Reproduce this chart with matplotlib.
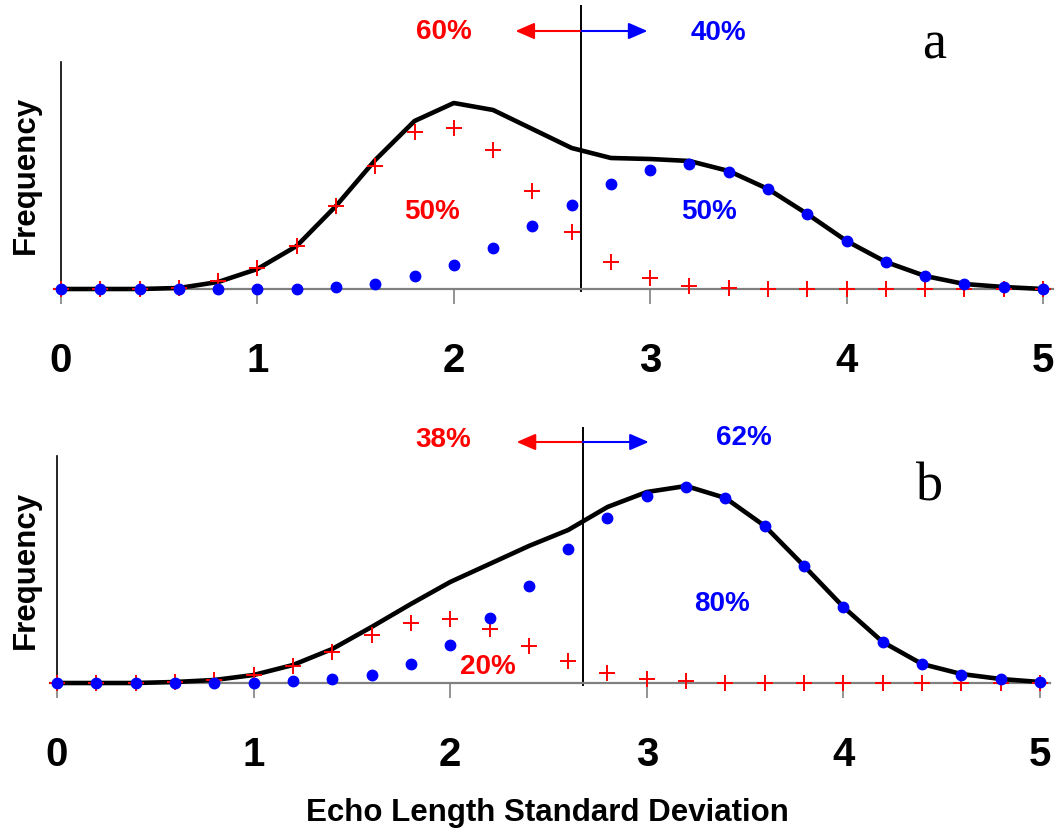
import numpy as np
import matplotlib
matplotlib.use("Agg")
import matplotlib.pyplot as plt

plt.rcParams["font.family"] = ["Liberation Sans", "DejaVu Sans"]

# ---- data -------------------------------------------------------------
x = np.round(np.arange(0, 5.01, 0.2), 1)

# panel a
total_a = [0, 0, 0, 1, 7, 20, 43, 83, 129, 168, 186, 179, 160, 141, 131, 130,
           128, 118, 100, 75, 48, 27, 13, 5, 2, 0]
red_a = [0, 0, 0, 1, 8, 21, 43, 83, 123, 157, 161, 139, 98, 57, 27, 11,
         3, 1, 0, 0, 0, 0, 0, 0, 0, 0]
blue_a = [0, 0, 0, 0, 0, 0, 0, 1.7, 5, 12.7, 23.7, 41, 62.7, 84, 105, 119,
          125, 117, 100, 75, 48, 27, 13, 5, 2, 0]

# panel b
total_b = [0, 0, 0, 1, 3, 8, 18, 34, 56, 79, 101, 119, 137, 153, 176, 191,
           197, 185, 157, 117, 76, 41, 19, 9, 4, 1]
red_b = [0, 0, 0, 0.7, 2.7, 8, 17, 31, 48, 60, 64, 54, 37, 22, 10, 4,
         2, 0, 0, 0, 0, 0, 0, 0, 0, 0]
blue_b = [0, 0, 0, 0, 0, 0, 2, 3.7, 8, 19, 38, 65, 97, 134, 165, 187,
          196, 185, 157, 117, 76, 41, 19, 8, 4, 1]

split_a = 2.65
split_b = 2.674
pct_a = ["60%", "40%", "50%", "50%"]
pct_b = ["38%", "62%", "20%", "80%"]

RED = "#ff0000"
BLUE = "#0000ff"

fig = plt.figure(figsize=(10.62, 8.35), dpi=100)
W, H = 1062, 835


def make_axes(left_px, zero_px, base_px, unit_px):
    # axes box from pixel positions: x runs -0.035..5.05, y 0..227
    x0 = zero_px - 0.035 * unit_px
    w = 5.085 * unit_px
    return fig.add_axes([x0 / W, (H - base_px) / H, w / W, 227 / H])


def style(ax):
    ax.set_xlim(-0.035, 5.05)
    ax.set_ylim(0, 227)
    for s in ["top", "right"]:
        ax.spines[s].set_visible(False)
    ax.spines["left"].set_position(("data", 0))
    ax.spines["left"].set_color("black")
    ax.spines["left"].set_linewidth(1.2)
    ax.spines["bottom"].set_color("#808080")
    ax.spines["bottom"].set_linewidth(1.6)
    ax.set_yticks([])
    ax.set_xticks([0, 1, 2, 3, 4, 5])
    ax.tick_params(axis="x", direction="out", length=11, width=1.2,
                   color="#808080", pad=27, labelsize=29)
    for lb in ax.get_xticklabels():
        lb.set_fontweight("bold")


def draw_panel(ax, total, red, blue, split, top, arrow_y, pcts, pos, letter, letter_pos):
    ax.plot(x, total, color="black", lw=3.3, zorder=3, clip_on=False)
    ax.plot(x, red, ls="none", marker="+", ms=12, mew=1.4, color=RED,
            zorder=4, clip_on=False)
    ax.plot(x, blue, ls="none", marker="o", ms=7.5, color=BLUE, mec=BLUE,
            zorder=5, clip_on=False)

    # threshold line with arrows
    ax.plot([split, split], [-2, top], color="black", lw=1.4, clip_on=False, zorder=2)
    for dx, c in [(-0.336, RED), (0.336, BLUE)]:
        ax.annotate("", xy=(split + dx, arrow_y), xytext=(split, arrow_y),
                    annotation_clip=False,
                    arrowprops=dict(arrowstyle="-|>,head_length=1.15,head_width=0.5",
                                    mutation_scale=10, color=c, lw=1.5,
                                    shrinkA=0, shrinkB=0))

    cols = [RED, BLUE, RED, BLUE]
    for t, (px, py), c in zip(pcts, pos, cols):
        ax.text(px, py, t, color=c, fontsize=20, fontweight="bold",
                ha="center", va="center", clip_on=False)

    ax.text(letter_pos[0], letter_pos[1], letter, fontsize=39,
            family="Liberation Serif", ha="center", va="center", clip_on=False)


ax1 = make_axes(61, 61, 289, 196.4)
style(ax1)
draw_panel(ax1, total_a, red_a, blue_a, split_a, 283, 258, pct_a,
           [(1.95, 257), (3.345, 256), (1.89, 77), (3.30, 77)],
           "a", (4.445, 244))

ax2 = make_axes(57, 57, 683, 196.6)
style(ax2)
draw_panel(ax2, total_b, red_b, blue_b, split_b, 255, 241, pct_b,
           [(1.963, 243), (3.494, 245), (2.19, 16), (3.38, 79)],
           "b", (4.44, 196))

# shared labels
for yc in [175, 570]:
    fig.text(26 / W, 1 - yc / H, "Frequency", rotation=90, fontsize=22.5,
             fontweight="bold", ha="center", va="center")
fig.text(547 / W, 1 - 813 / H, "Echo Length Standard Deviation", fontsize=22.5,
         fontweight="bold", ha="center", va="center")

fig.savefig("out.png", dpi=100)
